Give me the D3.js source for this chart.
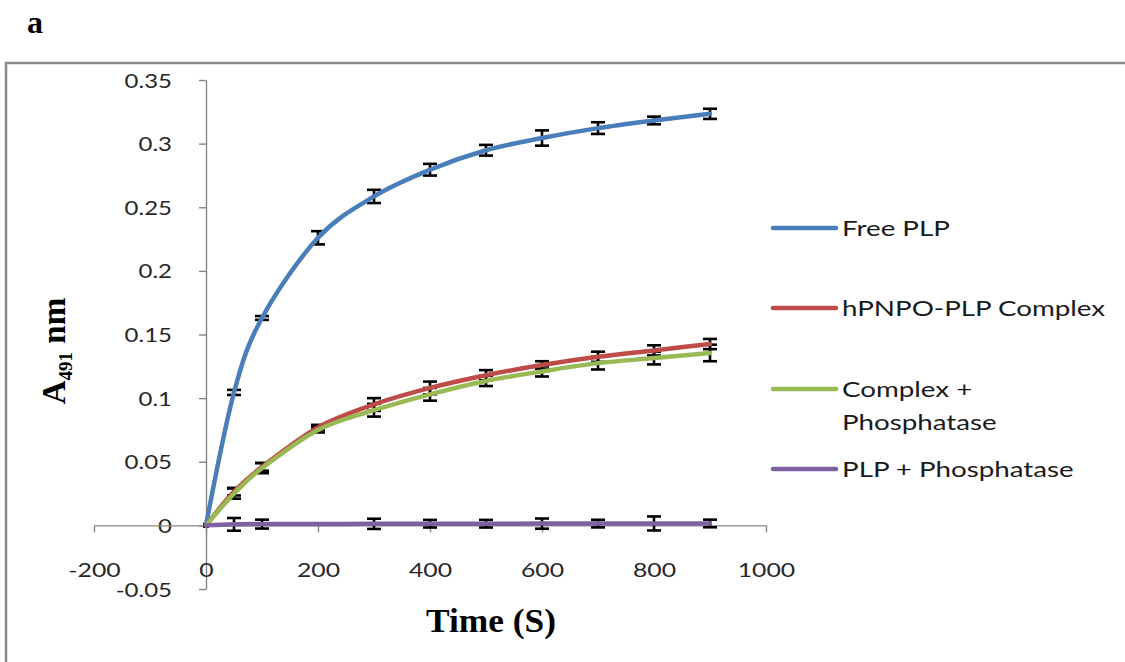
<!DOCTYPE html>
<html>
<head>
<meta charset="utf-8">
<script src="https://cdn.jsdelivr.net/npm/d3@7"></script>
<style>
  html, body { margin: 0; padding: 0; background: #fff; }
  svg { display: block; }
</style>
</head>
<body>
<svg id="chart" width="1125" height="662"></svg>
<script>
// ---- Data ----
const timeValues = [0, 50, 100, 200, 300, 400, 500, 600, 700, 800, 900];
const seriesNames = ["Free PLP", "hPNPO-PLP Complex", "Complex + Phosphatase", "PLP + Phosphatase"];
const freePLP        = [0, 0.1045, 0.163, 0.226, 0.2585, 0.2795, 0.2948, 0.3044, 0.3122, 0.3182, 0.3234];
const freePLPErr     = [0, 0.002, 0.0015, 0.0052, 0.0052, 0.0046, 0.0042, 0.006, 0.0046, 0.003, 0.004];
const complexPLP     = [0, 0.0265, 0.046, 0.077, 0.095, 0.108, 0.118, 0.126, 0.1325, 0.1375, 0.1425];
const complexPLPErr  = [0, 0.003, 0.003, 0.002, 0.005, 0.005, 0.004, 0.003, 0.004, 0.004, 0.004];
const complexPhos    = [0, 0.025, 0.045, 0.075, 0.0905, 0.103, 0.1135, 0.121, 0.1275, 0.1315, 0.1355];
const complexPhosErr = [0, 0.004, 0.004, 0.002, 0.005, 0.005, 0.004, 0.004, 0.005, 0.005, 0.0065];
const plpPhos        = [0, 0.0008, 0.001, 0.001, 0.0012, 0.0013, 0.0013, 0.0014, 0.0014, 0.0015, 0.0015];
const plpPhosErr     = [0, 0.005, 0.0035, 0.0005, 0.004, 0.003, 0.003, 0.004, 0.003, 0.0055, 0.003];
const xTickValues = [-200, 0, 200, 400, 600, 800, 1000];
const xTickLabels = ["-200", "0", "200", "400", "600", "800", "1000"];
const yTickValues = [-0.05, 0, 0.05, 0.1, 0.15, 0.2, 0.25, 0.3, 0.35];
const yTickLabels = ["-0.05", "0", "0.05", "0.1", "0.15", "0.2", "0.25", "0.3", "0.35"];
const colors = ["#4A7EBB", "#BE4B48", "#98B954", "#7D60A0"];

const seriesVals = [freePLP, complexPLP, complexPhos, plpPhos];
const seriesErrs = [freePLPErr, complexPLPErr, complexPhosErr, plpPhosErr];
const series = seriesNames.map((name, i) => ({
  name, color: colors[i],
  points: timeValues.map((t, j) => ({ t, v: seriesVals[i][j], e: seriesErrs[i][j] }))
}));

// ---- Layout ----
const svg = d3.select("#chart");
const sansFont = "Lato, 'Open Sans', sans-serif";
const serifFont = "'Liberation Serif', 'Times New Roman', serif";
const SX = 1.2;

// outer frame
svg.append("rect")
  .attr("x", 6).attr("y", 63).attr("width", 1300).attr("height", 800)
  .attr("fill", "none").attr("stroke", "#8a8a8a").attr("stroke-width", 2.5);

// panel letter
svg.append("text").attr("x", 27).attr("y", 33)
  .attr("font-family", serifFont).attr("font-weight", "bold").attr("font-size", 32)
  .text("a");

const x = d3.scaleLinear().domain([-200, 1000]).range([94, 766]);
const y = d3.scaleLinear().domain([-0.05, 0.35]).range([589, 80]);

const axisColor = "#868686";

// Y axis at x = 0
const yAxisG = svg.append("g").attr("transform", `translate(${x(0)},0)`)
  .call(d3.axisLeft(y).tickValues(yTickValues).tickSize(7).tickSizeOuter(0)
    .tickFormat((d, i) => yTickLabels[i]));
yAxisG.select(".domain").attr("stroke", axisColor).attr("stroke-width", 1.4);
yAxisG.selectAll(".tick line").attr("stroke", axisColor).attr("stroke-width", 1.4);
yAxisG.selectAll(".tick text")
  .attr("font-family", sansFont).attr("font-size", 20).attr("fill", "#262626")
  .attr("x", -34 / SX).attr("dy", "0.35em")
  .attr("transform", `scale(${SX},1)`);

// X axis at y = 0
const xAxisG = svg.append("g").attr("transform", `translate(0,${y(0)})`)
  .call(d3.axisBottom(x).tickValues(xTickValues).tickSize(7).tickSizeOuter(0)
    .tickFormat((d, i) => xTickLabels[i]));
xAxisG.select(".domain").attr("stroke", axisColor).attr("stroke-width", 1.4);
xAxisG.selectAll(".tick line").attr("stroke", axisColor).attr("stroke-width", 1.4);
xAxisG.selectAll(".tick text")
  .attr("font-family", sansFont).attr("font-size", 20).attr("fill", "#262626")
  .attr("y", 52).attr("dy", 0)
  .attr("transform", `scale(${SX + 0.04},1)`);

// Axis titles
svg.append("text")
  .attr("transform", `translate(491,632) scale(1.04,1)`)
  .attr("text-anchor", "middle")
  .attr("font-family", serifFont).attr("font-weight", "bold").attr("font-size", 34)
  .text("Time (S)");

const yl = svg.append("text")
  .attr("transform", "translate(65,351) rotate(-90)")
  .attr("text-anchor", "middle")
  .attr("font-family", serifFont).attr("font-weight", "bold").attr("font-size", 33);
yl.append("tspan").text("A");
yl.append("tspan").attr("font-size", 19).attr("dy", 7).text("491");
yl.append("tspan").attr("dy", -7).text(" nm");

// Error bars
const plot = svg.append("g");
series.forEach(s => {
  const g = plot.append("g");
  s.points.forEach(p => {
    const cx = x(p.t);
    if (p.e === 0) {
      g.append("rect").attr("x", cx - 2.5).attr("y", y(p.v) - 2.5)
        .attr("width", 5).attr("height", 5).attr("fill", "#000");
      return;
    }
    const y1 = y(p.v + p.e), y2 = y(p.v - p.e);
    g.append("line").attr("x1", cx).attr("x2", cx).attr("y1", y1).attr("y2", y2)
      .attr("stroke", "#000").attr("stroke-width", 2.6);
    [y1, y2].forEach(yy => g.append("line")
      .attr("x1", cx - 7).attr("x2", cx + 7).attr("y1", yy).attr("y2", yy)
      .attr("stroke", "#000").attr("stroke-width", 2.6));
  });
});

// Lines
const line = d3.line().x(d => x(d.t)).y(d => y(d.v)).curve(d3.curveCatmullRom.alpha(0));
series.forEach(s => {
  plot.append("path").datum(s.points)
    .attr("d", line).attr("fill", "none")
    .attr("stroke", s.color).attr("stroke-width", 4.5)
    .attr("stroke-linecap", "round").attr("stroke-linejoin", "round");
});

// Legend
const legendY = [228, 308, 389, 469];
const legendLines = [["Free PLP"], ["hPNPO-PLP Complex"], ["Complex +", "Phosphatase"], ["PLP + Phosphatase"]];
series.forEach((s, i) => {
  const ly = legendY[i];
  svg.append("line").attr("x1", 773).attr("x2", 836).attr("y1", ly).attr("y2", ly)
    .attr("stroke", s.color).attr("stroke-width", 4.5).attr("stroke-linecap", "round");
  legendLines[i].forEach((txt, k) => {
    svg.append("text")
      .attr("transform", `translate(842,${ly + 8 + k * 32.5}) scale(1.29,1)`)
      .attr("font-family", sansFont).attr("font-size", 21.5).attr("fill", "#1a1a1a")
      .text(txt);
  });
});
</script>
</body>
</html>
